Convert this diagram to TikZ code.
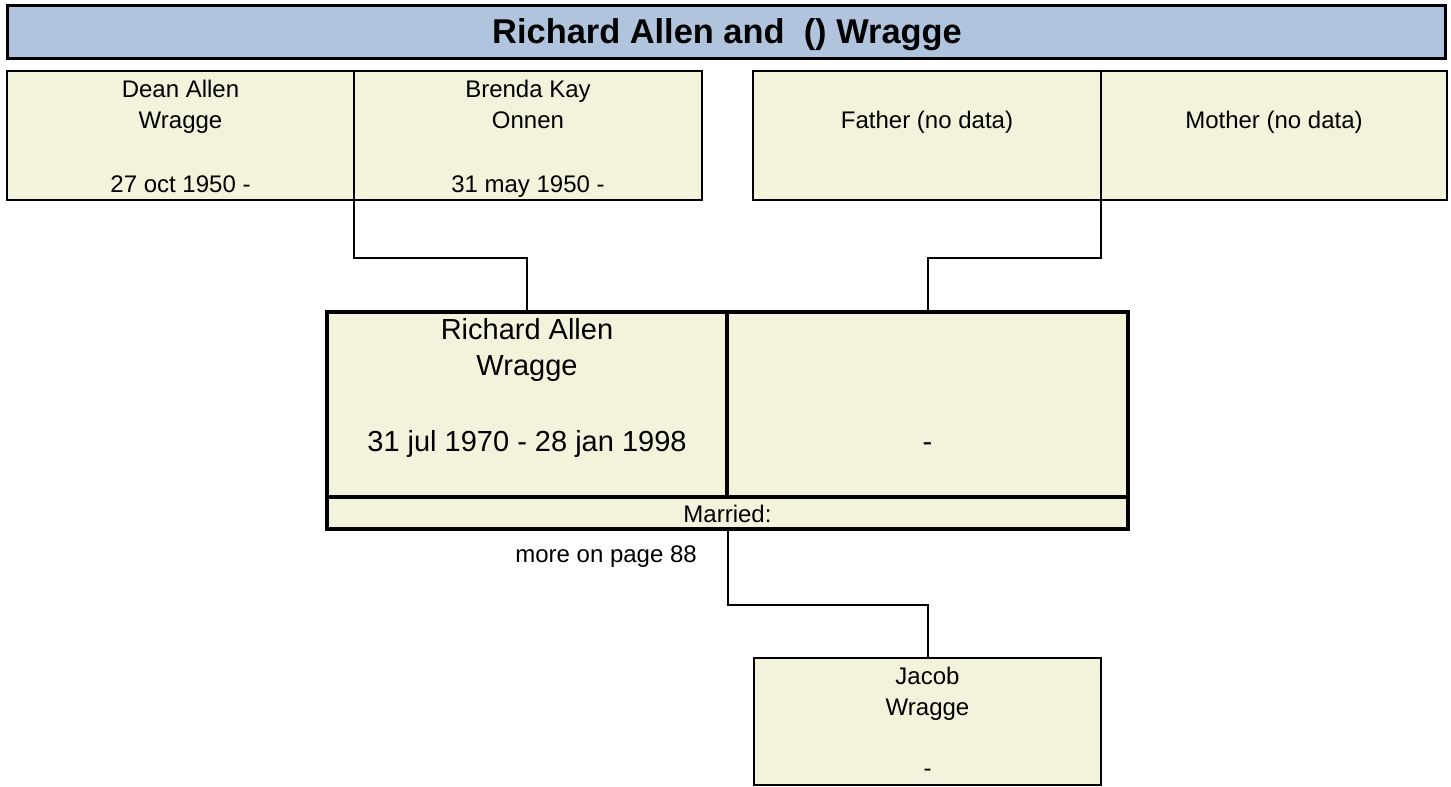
\documentclass[tikz,border=0pt]{standalone}
\usepackage{fontspec}
\setmainfont{Liberation Sans}
\definecolor{titleblue}{HTML}{B0C4DE}
\definecolor{boxfill}{HTML}{F3F3DC}
\begin{document}
\begin{tikzpicture}[x=1pt,y=-1pt,
  titlebox/.style={draw=black,fill=titleblue,line width=3pt,rectangle,inner sep=0pt,outer sep=0pt,anchor=north west},
  pbox/.style={draw=black,fill=boxfill,line width=2pt,rectangle,inner sep=0pt,outer sep=0pt,anchor=north west},
  mbox/.style={draw=black,fill=boxfill,line width=4pt,rectangle,inner sep=0pt,outer sep=0pt,anchor=north west},
  small/.style={font=\fontsize{24}{29}\selectfont,anchor=base,inner sep=0pt},
  big/.style={font=\fontsize{29}{35}\selectfont,anchor=base,inner sep=0pt},
  ttl/.style={font=\fontsize{34.4}{40}\selectfont\bfseries,anchor=base,inner sep=0pt},
  link/.style={draw=black,line width=2pt}
]
\useasboundingbox (0,0) rectangle (1451,787);
\fill[white] (0,0) rectangle (1451,787);

% title
\node[titlebox,minimum width=1438pt,minimum height=53pt] (title) at (7,5) {};
\node[ttl] (titletext) at (727,43) {Richard Allen and\ \ () Wragge};

% connectors (behind boxes)
\coordinate (pjoin) at (354,200);
\coordinate (mjoin) at (1101,200);
\coordinate (cjoin) at (727.5,529);

% parents
\node[pbox,minimum width=347pt,minimum height=129pt] (dean) at (7,71) {};
\node[pbox,minimum width=348pt,minimum height=129pt] (brenda) at (354,71) {};
\node[pbox,minimum width=348pt,minimum height=129pt] (father) at (753,71) {};
\node[pbox,minimum width=346pt,minimum height=129pt] (mother) at (1101,71) {};

\node[small] (dean1) at (dean.center |- 0,97) {Dean Allen};
\node[small] (dean2) at (dean.center |- 0,128) {Wragge};
\node[small] (dean3) at (dean.center |- 0,192) {27 oct 1950 -};
\node[small] (brenda1) at (brenda.center |- 0,97) {Brenda Kay};
\node[small] (brenda2) at (brenda.center |- 0,128) {Onnen};
\node[small] (brenda3) at (brenda.center |- 0,192) {31 may 1950 -};
\node[small] (father1) at (father.center |- 0,128) {Father (no data)};
\node[small] (mother1) at (mother.center |- 0,128) {Mother (no data)};

% main couple
\node[mbox,minimum width=400pt,minimum height=185pt] (rich) at (327,312) {};
\node[mbox,minimum width=401pt,minimum height=185pt] (spouse) at (727,312) {};
\node[mbox,minimum width=801pt,minimum height=32pt] (married) at (327,497) {};

\node[big] (rich1) at (rich.center |- 0,339) {Richard Allen};
\node[big] (rich2) at (rich.center |- 0,375) {Wragge};
\node[big] (rich3) at (rich.center |- 0,451) {31 jul 1970 - 28 jan 1998};
\node[big] (spouse1) at (spouse.center |- 0,451) {-};
\node[small] (marr1) at (married.center |- 0,522) {Married:};
\node[small,anchor=base east] (more) at (697,562) {more on page 88};

% child
\node[pbox,minimum width=347pt,minimum height=127pt] (child) at (754,658) {};
\node[small] (child1) at (child.center |- 0,684) {Jacob};
\node[small] (child2) at (child.center |- 0,715) {Wragge};
\node[small] (child3) at (child.center |- 0,776) {-};

% connectors
\draw[link] (dean.south east) -- ++(0,58) -| (rich.north);
\draw[link] (father.south east) -- ++(0,58) -| (spouse.north);
\draw[link] (married.south) -- ++(0,76) -| (child.north);
\end{tikzpicture}
\end{document}
